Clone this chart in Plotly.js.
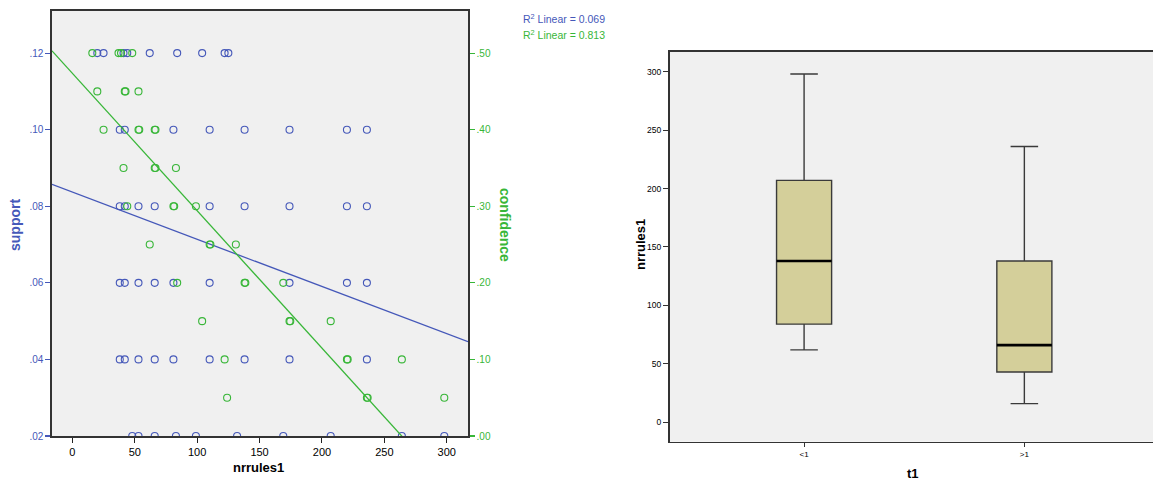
<!DOCTYPE html>
<html>
<head>
<meta charset="utf-8">
<script src="https://cdn.plot.ly/plotly-3.0.1.min.js"></script>
<style>
html,body{margin:0;padding:0;background:#fff;}
#chart{width:1153px;height:482px;}
</style>
</head>
<body>
<div id="chart"></div>
<script>
// ---- Left chart: support (blue) and confidence (green) vs nrrules1 ----
var supportX = [20, 25, 41, 44, 62, 84, 104, 122, 125,
                38, 42, 81, 110, 138, 174, 220, 236,
                38, 42, 53, 66, 110, 138, 174, 220, 236,
                38, 42, 53, 66, 81, 110, 174, 220, 236,
                38, 42, 53, 66, 81, 110, 138, 174, 236,
                48, 53, 66, 83, 99, 132, 169, 207, 264, 298];
var supportY = [0.12, 0.12, 0.12, 0.12, 0.12, 0.12, 0.12, 0.12, 0.12,
                0.10, 0.10, 0.10, 0.10, 0.10, 0.10, 0.10, 0.10,
                0.08, 0.08, 0.08, 0.08, 0.08, 0.08, 0.08, 0.08, 0.08,
                0.06, 0.06, 0.06, 0.06, 0.06, 0.06, 0.06, 0.06, 0.06,
                0.04, 0.04, 0.04, 0.04, 0.04, 0.04, 0.04, 0.04, 0.04,
                0.02, 0.02, 0.02, 0.02, 0.02, 0.02, 0.02, 0.02, 0.02, 0.02];
var confidenceX = [16, 37, 39, 48,
                   20, 42, 42.6, 53,
                   25, 53, 53.6, 66, 66.6,
                   41, 66, 66.6, 83,
                   44, 81, 81.6, 99,
                   62, 110, 110.6, 131,
                   84, 138, 138.6, 169,
                   104, 174, 174.6, 207,
                   122, 220, 220.6, 264,
                   124, 236, 236.6, 298];
var confidenceY = [0.50, 0.50, 0.50, 0.50,
                   0.45, 0.45, 0.45, 0.45,
                   0.40, 0.40, 0.40, 0.40, 0.40,
                   0.35, 0.35, 0.35, 0.35,
                   0.30, 0.30, 0.30, 0.30,
                   0.25, 0.25, 0.25, 0.25,
                   0.20, 0.20, 0.20, 0.20,
                   0.15, 0.15, 0.15, 0.15,
                   0.10, 0.10, 0.10, 0.10,
                   0.05, 0.05, 0.05, 0.05];
// linear fits: [intercept, slope]
var fitSupport = [0.0837, -0.0001233];
var fitConfidence = [0.4737, -0.001795];
var r2Labels = ["R<sup>2</sup> Linear = 0.069", "R<sup>2</sup> Linear = 0.813"];
var xTicks = [0, 50, 100, 150, 200, 250, 300];
var supportTicks = [0.02, 0.04, 0.06, 0.08, 0.10, 0.12];
var supportTickText = [".02", ".04", ".06", ".08", ".10", ".12"];
var confTicks = [0, 0.1, 0.2, 0.3, 0.4, 0.5];
var confTickText = [".00", ".10", ".20", ".30", ".40", ".50"];

// ---- Right chart: box plot of nrrules1 by t1 ----
var boxCategories = ["<1", ">1"];
var boxLower = [62, 16];
var boxQ1 = [84, 43];
var boxMedian = [138, 66];
var boxQ3 = [207, 138];
var boxUpper = [298, 236];
var boxTicks = [0, 50, 100, 150, 200, 250, 300];

var BLUE = "#4558b9";
var GREEN = "#38b638";
var FONT = "Liberation Sans, Arial, sans-serif";

var xRange = [-16.3, 317];

var traces = [
  {
    type: "scatter", mode: "lines", x: xRange,
    y: xRange.map(function (v) { return fitSupport[0] + fitSupport[1] * v; }),
    xaxis: "x", yaxis: "y", line: {color: BLUE, width: 1.3}, hoverinfo: "skip"
  },
  {
    type: "scatter", mode: "lines", x: xRange,
    y: xRange.map(function (v) { return fitConfidence[0] + fitConfidence[1] * v; }),
    xaxis: "x", yaxis: "y2", line: {color: GREEN, width: 1.3}, hoverinfo: "skip"
  },
  {
    type: "scatter", mode: "markers", x: supportX, y: supportY,
    xaxis: "x", yaxis: "y",
    marker: {symbol: "circle-open", size: 7, color: BLUE, line: {width: 1.1, color: BLUE}}
  },
  {
    type: "scatter", mode: "markers", x: confidenceX, y: confidenceY,
    xaxis: "x", yaxis: "y2",
    marker: {symbol: "circle-open", size: 7, color: GREEN, line: {width: 1.1, color: GREEN}}
  },
  {
    type: "box", x: boxCategories, q1: boxQ1, median: boxMedian, q3: boxQ3,
    lowerfence: boxLower, upperfence: boxUpper,
    xaxis: "x2", yaxis: "y3",
    fillcolor: "#d4cf9a", line: {color: "#3a3a3a", width: 1.4},
    width: 0.25, whiskerwidth: 0.5, boxpoints: false
  }
];

var shapes = boxCategories.map(function (c, i) {
  return {type: "line", xref: "x2", yref: "y3", x0: i - 0.125, x1: i + 0.125,
          y0: boxMedian[i], y1: boxMedian[i], line: {color: "#000", width: 2.6}};
});

var W = 1153, H = 482;
function px(x) { return x / W; }
function py(y) { return 1 - y / H; }

var layout = {
  width: W, height: H, autosize: false,
  margin: {l: 0, r: 0, t: 0, b: 0},
  paper_bgcolor: "#ffffff",
  showlegend: false,
  font: {family: FONT, size: 10, color: "#000"},
  shapes: shapes.concat([
    {type: "rect", xref: "paper", yref: "paper", x0: px(52), x1: px(468), y0: py(436), y1: py(11),
     fillcolor: "#f0f0f0", line: {width: 0}, layer: "below"},
    {type: "rect", xref: "paper", yref: "paper", x0: px(669.5), x1: 1, y0: py(441.7), y1: py(51.7),
     fillcolor: "#f0f0f0", line: {width: 0}, layer: "below"}
  ]),
  xaxis: {
    domain: [px(52), px(468)], range: xRange, anchor: "y",
    tickvals: xTicks, ticks: "outside", ticklen: 5, tickcolor: "#222", tickwidth: 1,
    showline: true, mirror: true, linecolor: "#333", linewidth: 1.6,
    showgrid: false, zeroline: false, tickfont: {size: 11, color: "#000", family: FONT}
  },
  yaxis: {
    domain: [py(436), py(11)], range: [0.02, 0.131], anchor: "x",
    tickvals: supportTicks, ticktext: supportTickText,
    ticks: "outside", ticklen: 5, tickcolor: BLUE, tickwidth: 1.2,
    showline: true, linecolor: "#333", linewidth: 1.6,
    showgrid: false, zeroline: false, tickfont: {size: 10, color: BLUE, family: FONT}
  },
  yaxis2: {
    overlaying: "y", side: "right", anchor: "x", range: [0, 0.555],
    tickvals: confTicks, ticktext: confTickText,
    ticks: "outside", ticklen: 5, tickcolor: GREEN, tickwidth: 1.2,
    showline: true, linecolor: "#333", linewidth: 1.6,
    showgrid: false, zeroline: false, tickfont: {size: 10, color: GREEN, family: FONT}
  },
  xaxis2: {
    domain: [px(669.5), 1], type: "category", range: [-0.611, 1.584], anchor: "y3",
    ticks: "outside", ticklen: 4, tickcolor: "#333", tickwidth: 1,
    showline: true, mirror: true, linecolor: "#333", linewidth: 1.6,
    showgrid: false, zeroline: false, tickfont: {size: 8, color: "#000", family: FONT}
  },
  yaxis3: {
    domain: [py(441.7), py(51.7)], range: [-16.6, 317.1], anchor: "x2",
    tickvals: boxTicks, ticks: "outside", ticklen: 5, tickcolor: "#333", tickwidth: 1,
    showline: true, linecolor: "#333", linewidth: 1.6,
    showgrid: false, zeroline: false, tickfont: {size: 8.5, color: "#000", family: FONT}
  },
  annotations: [
    {text: "support", xref: "paper", yref: "paper", x: px(15), y: py(225), textangle: -90,
     xanchor: "center", yanchor: "middle",
     showarrow: false, font: {size: 14, color: BLUE, family: FONT, weight: "bold"}},
    {text: "confidence", xref: "paper", yref: "paper", x: px(505), y: py(225), textangle: 90,
     xanchor: "center", yanchor: "middle",
     showarrow: false, font: {size: 14, color: GREEN, family: FONT, weight: "bold"}},
    {text: "nrrules1", xref: "paper", yref: "paper", x: px(258), y: py(467),
     xanchor: "center", yanchor: "middle",
     showarrow: false, font: {size: 13, color: "#000", family: FONT, weight: "bold"}},
    {text: r2Labels[0], xref: "paper", yref: "paper", x: px(521), y: py(19), xanchor: "left",
     yanchor: "middle",
     showarrow: false, font: {size: 10.5, color: BLUE, family: FONT}},
    {text: r2Labels[1], xref: "paper", yref: "paper", x: px(521), y: py(35), xanchor: "left",
     yanchor: "middle",
     showarrow: false, font: {size: 10.5, color: GREEN, family: FONT}},
    {text: "nrrules1", xref: "paper", yref: "paper", x: px(640), y: py(245), textangle: -90,
     xanchor: "center", yanchor: "middle",
     showarrow: false, font: {size: 13, color: "#000", family: FONT, weight: "bold"}},
    {text: "t1", xref: "paper", yref: "paper", x: px(913), y: py(473),
     xanchor: "center", yanchor: "middle",
     showarrow: false, font: {size: 13, color: "#000", family: FONT, weight: "bold"}}
  ]
};

Plotly.newPlot("chart", traces, layout, {staticPlot: true, displayModeBar: false});
</script>
</body>
</html>
